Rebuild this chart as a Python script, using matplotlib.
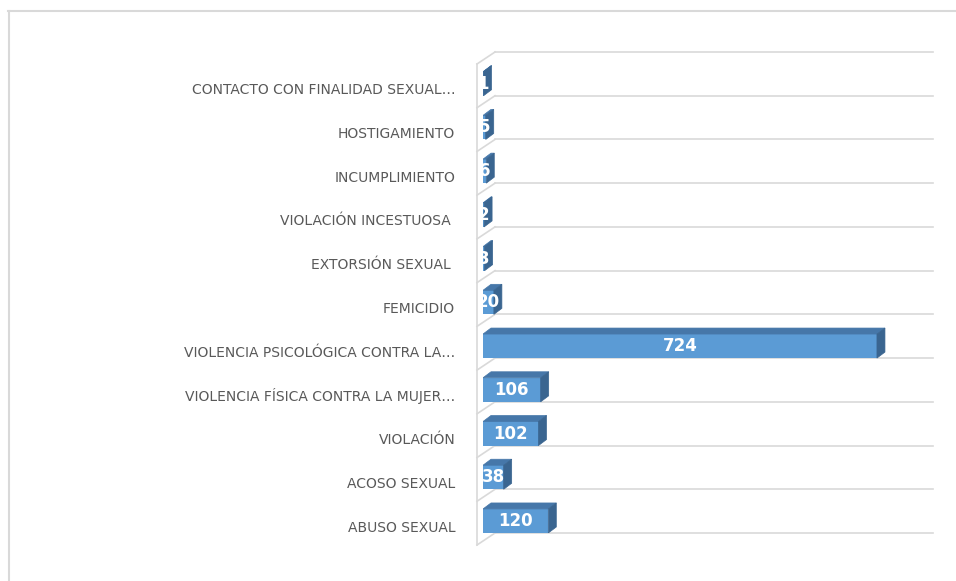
import matplotlib.pyplot as plt
from matplotlib.patches import Polygon
from matplotlib.lines import Line2D

# categories top to bottom as shown in the chart
categories = [
    "CONTACTO CON FINALIDAD SEXUAL…",
    "HOSTIGAMIENTO",
    "INCUMPLIMIENTO",
    "VIOLACIÓN INCESTUOSA ",
    "EXTORSIÓN SEXUAL ",
    "FEMICIDIO",
    "VIOLENCIA PSICOLÓGICA CONTRA LA…",
    "VIOLENCIA FÍSICA CONTRA LA MUJER…",
    "VIOLACIÓN",
    "ACOSO SEXUAL",
    "ABUSO SEXUAL",
]
values = [1, 5, 6, 2, 3, 20, 724, 106, 102, 38, 120]

FRONT = "#5B9BD5"
TOP = "#4677A9"
SIDE = "#3A6590"
GRID = "#D9D9D9"

W, H = 956, 581
X_MAX = 827
BAR_H = 0.55


def px_x(ax, px):
    # pixel distance -> data distance along x
    x0, x1 = ax.get_xlim()
    return px * (x1 - x0) / (ax.get_position().width * W)


def px_y(ax, px):
    y0, y1 = ax.get_ylim()
    return px * (y1 - y0) / (ax.get_position().height * H)


def draw_floor(ax, n):
    back_x = px_x(ax, 12)
    front_x = px_x(ax, -6)
    dy = px_y(ax, 12)
    for k in range(n + 1):
        y = k - 0.5
        ax.plot([back_x, X_MAX], [y, y], color=GRID, lw=1.2, zorder=1, clip_on=False)
        ax.plot([front_x, back_x], [y - dy, y], color=GRID, lw=1.2, zorder=1, clip_on=False)
    ax.plot([front_x, front_x], [-0.5 - dy, n - 0.5 - dy], color=GRID, lw=1.2,
            zorder=1, clip_on=False)


def draw_bar(ax, y, v):
    dx = px_x(ax, 8)
    dy = px_y(ax, 6)
    b = y - 0.5
    t = b + BAR_H
    ax.barh(b, v, height=BAR_H, align="edge", color=FRONT, zorder=3)
    top = Polygon([(0, t), (v, t), (v + dx, t + dy), (dx, t + dy)],
                  closed=True, facecolor=TOP, edgecolor=TOP, lw=0.5, zorder=3)
    side = Polygon([(v, b), (v, t), (v + dx, t + dy), (v + dx, b + dy)],
                   closed=True, facecolor=SIDE, edgecolor=SIDE, lw=0.5, zorder=3)
    ax.add_patch(top)
    ax.add_patch(side)
    ax.text(v / 2, b + BAR_H / 2, str(v), color="white", fontsize=12,
            fontweight="bold", ha="center", va="center", zorder=4)


def main():
    fig = plt.figure(figsize=(W / 100, H / 100), dpi=100)
    ax = fig.add_axes([483 / W, (H - 533) / H, 450 / W, 481 / H])
    n = len(categories)
    ax.set_xlim(0, X_MAX)
    ax.set_ylim(-0.5, n - 0.5)

    ypos = list(range(n - 1, -1, -1))
    draw_floor(ax, n)
    for y, v in zip(ypos, values):
        draw_bar(ax, y, v)

    ax.set_yticks([y - 0.5 + px_y(ax, 7) for y in ypos])
    ax.set_yticklabels(categories, fontsize=10, color="#595959")
    ax.tick_params(axis="y", length=0, pad=20)
    ax.set_xticks([])
    for s in ax.spines.values():
        s.set_visible(False)

    # chart area border (top and left visible)
    fig.add_artist(Line2D([8 / W, 1], [1 - 10.5 / H, 1 - 10.5 / H],
                          color=GRID, lw=1.5, transform=fig.transFigure))
    fig.add_artist(Line2D([8.5 / W, 8.5 / W], [0, 1 - 10.5 / H],
                          color=GRID, lw=1.5, transform=fig.transFigure))

    fig.savefig("out.png", dpi=100)


if __name__ == "__main__":
    main()
